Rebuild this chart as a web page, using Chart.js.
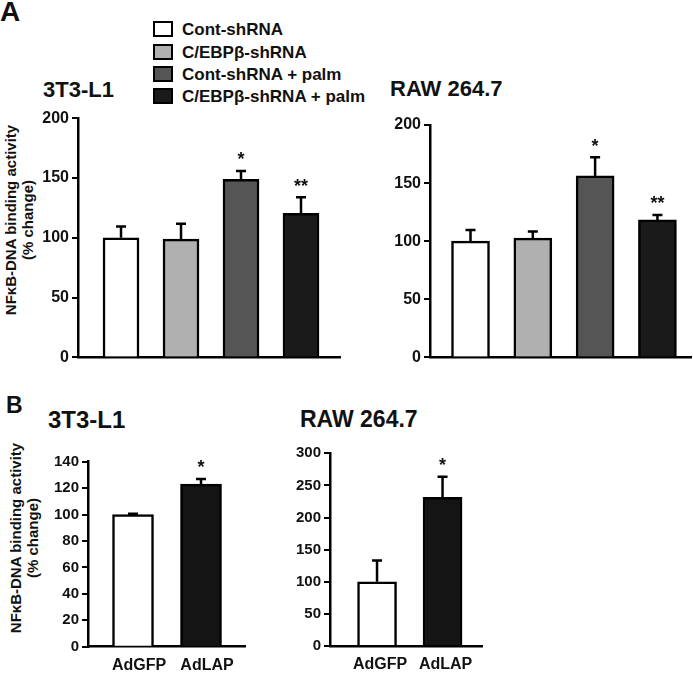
<!DOCTYPE html>
<html><head><meta charset="utf-8">
<script src="https://cdn.jsdelivr.net/npm/chart.js@4.4.1/dist/chart.umd.min.js"></script>
<style>
body{margin:0;width:693px;height:674px;background:#fff;position:relative;overflow:hidden;font-family:"Liberation Sans",Arial,sans-serif;color:#111;}
canvas{position:absolute;}
.t{position:absolute;white-space:nowrap;font-weight:bold;line-height:1;}
.ylab{position:absolute;width:260px;text-align:center;font-weight:bold;font-size:15px;line-height:17px;transform:translate(-50%,-50%) rotate(-90deg);white-space:nowrap;}
.box{position:absolute;width:16px;height:12px;border:2px solid #000;}
</style></head><body>
<script>
// ---- data ----
const catsA = ['Cont-shRNA', 'C/EBPβ-shRNA', 'Cont-shRNA + palm', 'C/EBPβ-shRNA + palm'];
const colorsA = ['#ffffff', '#b0b0b0', '#555555', '#1a1a1a'];
const a3t3Values = [100, 99, 149, 120.5];
const a3t3Err = [9.4, 12.7, 7, 13.5];
const a3t3Stars = ['', '', '*', '**'];
const aRawValues = [100, 102.6, 156.2, 118.3];
const aRawErr = [9.7, 5.7, 16, 4.3];
const aRawStars = ['', '', '*', '**'];
const yTicksA = { max: 200, step: 50 };

const catsB = ['AdGFP', 'AdLAP'];
const colorsB = ['#ffffff', '#141414'];
const b3t3Values = [100, 123];
const b3t3Err = [0.7, 4];
const b3t3Stars = ['', '*'];
const yTicksB3t3 = { max: 140, step: 20 };
const bRawValues = [100, 231.5];
const bRawErr = [33, 32];
const bRawStars = ['', '*'];
const yTicksBRaw = { max: 300, step: 50 };

const yTitle = ['NFκB-DNA binding activity', '(% change)'];

// ---- text ----
function txt(s, x, base, fs) {
  const d = document.createElement('div');
  d.className = 't'; d.textContent = s;
  d.style.left = x + 'px'; d.style.top = (base - 0.8465 * fs) + 'px'; d.style.fontSize = fs + 'px';
  document.body.appendChild(d);
}
function ylab(cx, cy) {
  const d = document.createElement('div');
  d.className = 'ylab'; d.innerHTML = yTitle[0] + '<br>' + yTitle[1];
  d.style.left = cx + 'px'; d.style.top = cy + 'px';
  document.body.appendChild(d);
}
txt('A', 0, 22, 28);
txt('B', 6, 413, 23);
txt('3T3-L1', 43, 98, 22);
txt('RAW 264.7', 390, 97, 22);
txt('3T3-L1', 48, 428, 24);
txt('RAW 264.7', 300, 427, 23);
ylab(18.5, 220);
ylab(24, 538);
const legTops = [21, 44, 66, 88];
catsA.forEach((c, i) => {
  const b = document.createElement('div');
  b.className = 'box'; b.style.left = '153px'; b.style.top = legTops[i] + 'px'; b.style.background = colorsA[i];
  document.body.appendChild(b);
  txt(c, 182, legTops[i] + 14, 17);
});

// ---- charts ----
Chart.defaults.font.family = '"Liberation Sans", Arial, sans-serif';
Chart.defaults.font.weight = 'bold';
Chart.defaults.color = '#111';

const errPlugin = {
  id: 'errbars',
  afterDatasetsDraw(chart, args, opts) {
    const ctx = chart.ctx, ys = chart.scales.y, meta = chart.getDatasetMeta(0);
    const data = chart.data.datasets[0].data;
    meta.data.forEach((bar, i) => {
      const x = bar.x, y0 = bar.y, y1 = ys.getPixelForValue(data[i].y + opts.err[i]);
      ctx.save();
      ctx.strokeStyle = '#000'; ctx.lineWidth = 2.5;
      ctx.beginPath();
      ctx.moveTo(x, y0); ctx.lineTo(x, y1);
      ctx.moveTo(x - 5, y1); ctx.lineTo(x + 5, y1);
      ctx.stroke();
      if (opts.stars[i]) {
        ctx.fillStyle = '#111';
        ctx.font = 'bold 18px "Liberation Sans", Arial, sans-serif';
        ctx.textAlign = 'center'; ctx.textBaseline = 'alphabetic';
        ctx.fillText(opts.stars[i], x, y1 - 15 + 0.53 * 18);
      }
      ctx.restore();
    });
  }
};

function makeChart(box, area, cfg) {
  const cv = document.createElement('canvas');
  cv.width = box.w; cv.height = box.h;
  cv.style.left = box.x + 'px'; cv.style.top = box.y + 'px';
  cv.style.width = box.w + 'px'; cv.style.height = box.h + 'px';
  document.body.appendChild(cv);
  const wy = area.x0 - box.x, pr = box.x + box.w - area.x1, pt = area.y0 - box.y, pb = box.y + box.h - area.y1 - cfg.hx;
  const xScale = {
    type: 'linear', offset: false, bounds: 'data', min: cfg.xmin, max: cfg.xmax,
    grid: { display: false, drawTicks: false },
    border: { display: true, color: '#000', width: 2.5 },
    afterFit: s => { s.height = cfg.hx; }
  };
  if (cfg.labels) {
    xScale.ticks = { font: { size: 16, weight: 'bold' }, padding: 9, labelOffset: cfg.lo, autoSkip: false, maxRotation: 0,
      callback: v => cfg.labels[v] };
    xScale.afterBuildTicks = s => { s.ticks = cfg.labels.map((_, i) => ({ value: i })); };
  } else {
    xScale.ticks = { display: false };
  }
  new Chart(cv, {
    type: 'bar',
    data: { datasets: [{ data: cfg.values.map((v, i) => ({ x: i, y: v })), backgroundColor: cfg.colors,
      borderColor: '#000', borderWidth: 2.5, barThickness: cfg.bw, borderSkipped: 'bottom' }] },
    options: {
      responsive: false, animation: false, devicePixelRatio: 1,
      layout: { padding: { left: 0, right: pr, top: pt, bottom: pb } },
      plugins: { legend: { display: false }, tooltip: { enabled: false }, errbars: { err: cfg.err, stars: cfg.stars } },
      scales: {
        x: xScale,
        y: {
          min: 0, max: cfg.yt.max,
          ticks: { stepSize: cfg.yt.step, font: { size: cfg.fs, weight: 'bold' }, color: '#111', padding: 3 },
          grid: { display: true, drawOnChartArea: false, drawTicks: true, tickLength: 6, color: '#000', lineWidth: 2 },
          border: { display: true, color: '#000', width: 2.5 },
          afterFit: s => { s.width = wy; }
        }
      }
    },
    plugins: [errPlugin]
  });
}

makeChart({ x: 40, y: 90, w: 305, h: 280 }, { x0: 78, x1: 340, y0: 118.3, y1: 357.7 },
  { values: a3t3Values, err: a3t3Err, stars: a3t3Stars, colors: colorsA, bw: 36, xmin: -0.717, xmax: 3.65, hx: 0, yt: yTicksA, fs: 16 });
makeChart({ x: 345, y: 90, w: 348, h: 280 }, { x0: 430, x1: 691.7, y0: 125, y1: 357.7 },
  { values: aRawValues, err: aRawErr, stars: aRawStars, colors: colorsA, bw: 38, xmin: -0.65, xmax: 3.55, hx: 0, yt: yTicksA, fs: 16 });
makeChart({ x: 40, y: 440, w: 230, h: 234 }, { x0: 88, x1: 245, y0: 461.7, y1: 646.7 },
  { values: b3t3Values, err: b3t3Err, stars: b3t3Stars, colors: colorsB, bw: 41, xmin: -0.662, xmax: 1.647, hx: 25, yt: yTicksB3t3, fs: 15, labels: catsB, lo: 6 });
makeChart({ x: 280, y: 440, w: 230, h: 234 }, { x0: 330, x1: 482.7, y0: 453.3, y1: 646 },
  { values: bRawValues, err: bRawErr, stars: bRawStars, colors: colorsB, bw: 39, xmin: -0.718, xmax: 1.613, hx: 25, yt: yTicksBRaw, fs: 15, labels: catsB, lo: 3 });
</script>
</body></html>
